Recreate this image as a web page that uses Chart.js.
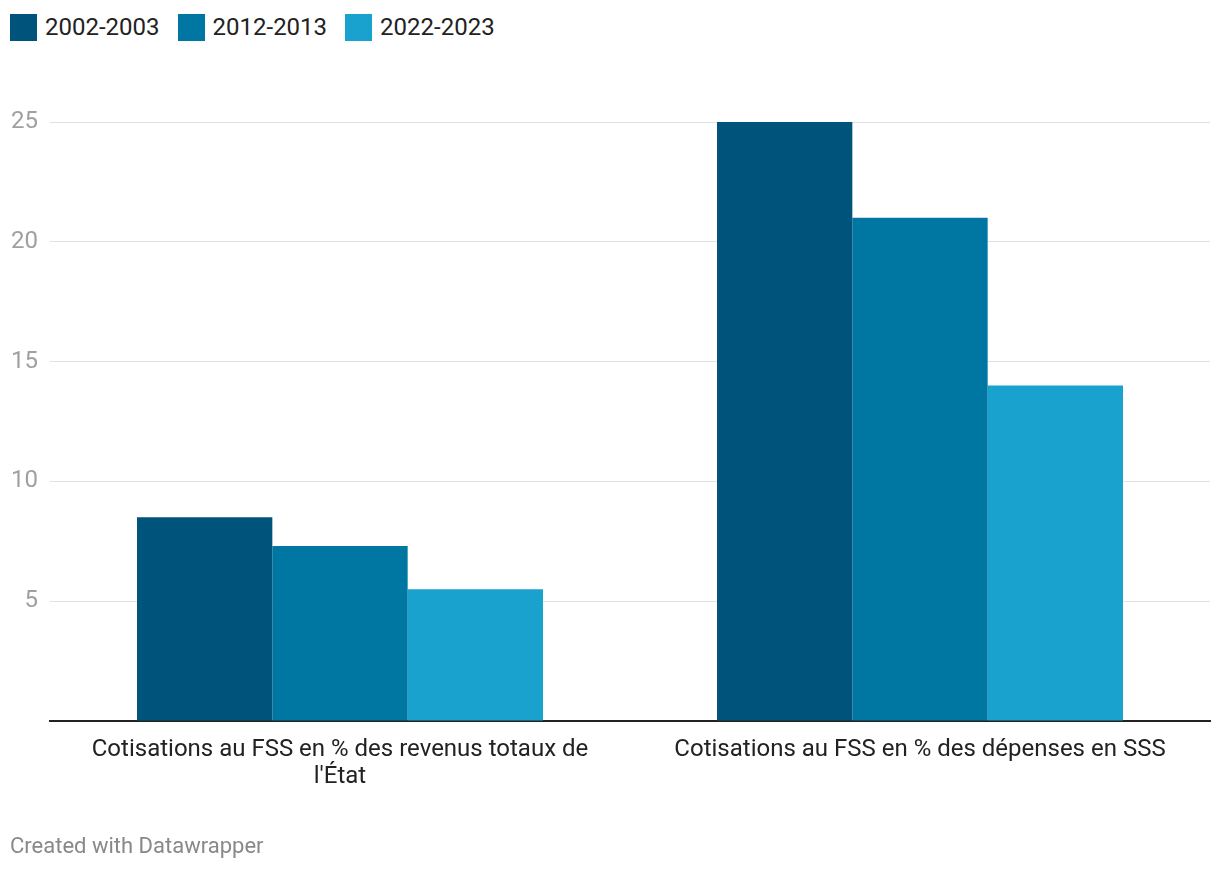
<!DOCTYPE html>
<html><head><meta charset="utf-8">
<script src="https://cdn.jsdelivr.net/npm/chart.js@4/dist/chart.umd.min.js"></script>
<style>
html,body{margin:0;padding:0;background:#fff;font-family:Roboto,"Noto Sans",sans-serif;}
#wrap{position:relative;width:1220px;height:872px;}
#legend{position:absolute;left:10px;top:13px;display:flex;gap:0;font-size:24px;color:#222;}
.item{display:flex;align-items:center;margin-right:18px;}
.sw{width:27px;height:27px;margin-right:8px;}
#foot{position:absolute;left:10px;top:833px;font-size:22px;color:#888;}
canvas{position:absolute;left:0;top:0;}
</style></head>
<body><div id="wrap"><div id="legend"></div><canvas id="c" width="1220" height="872"></canvas><div id="foot">Created with Datawrapper</div></div>
<script>
const categories = [["Cotisations au FSS en % des revenus totaux de","l'État"],"Cotisations au FSS en % des dépenses en SSS"];
const seriesNames = ["2002-2003","2012-2013","2022-2023"];
const values2002 = [8.5, 25];
const values2012 = [7.3, 21];
const values2022 = [5.5, 14];
const yTicks = [0,5,10,15,20,25];
const colors = ["#00547b","#0077a2","#19a2ce"];

const leg = document.getElementById('legend');
seriesNames.forEach((n,i)=>{
  const d=document.createElement('div');d.className='item';
  d.innerHTML='<div class="sw" style="background:'+colors[i]+'"></div><span>'+n+'</span>';
  leg.appendChild(d);
});

new Chart(document.getElementById('c'),{
  type:'bar',
  data:{labels:categories,datasets:[values2002,values2012,values2022].map((v,i)=>({label:seriesNames[i],data:v,backgroundColor:colors[i],borderWidth:0,categoryPercentage:0.7,barPercentage:1}))},
  options:{
    responsive:false,animation:false,
    layout:{padding:{top:122,right:10,left:0,bottom:0}},
    plugins:{legend:{display:false},tooltip:{enabled:false}},
    scales:{
      x:{grid:{display:false},border:{display:true,color:'#222',width:2},
        ticks:{color:'#222',font:{family:'Roboto',size:24,lineHeight:1.13},padding:7,maxRotation:0,autoSkip:false},
        afterFit:s=>{s.height=151;}},
      y:{min:0,max:25,afterBuildTicks:s=>{s.ticks=yTicks.map(v=>({value:v}));},
        border:{display:false},
        grid:{drawTicks:false,color:c=>c.tick&&c.tick.value===0?'rgba(0,0,0,0)':'#e0e0e0',lineWidth:1},
        ticks:{color:'#a0a0a0',font:{family:'Roboto',size:24},padding:12,callback:v=>v===0?'':v},
        afterFit:s=>{s.width=50;}}
    }
  }
});
</script></body></html>
